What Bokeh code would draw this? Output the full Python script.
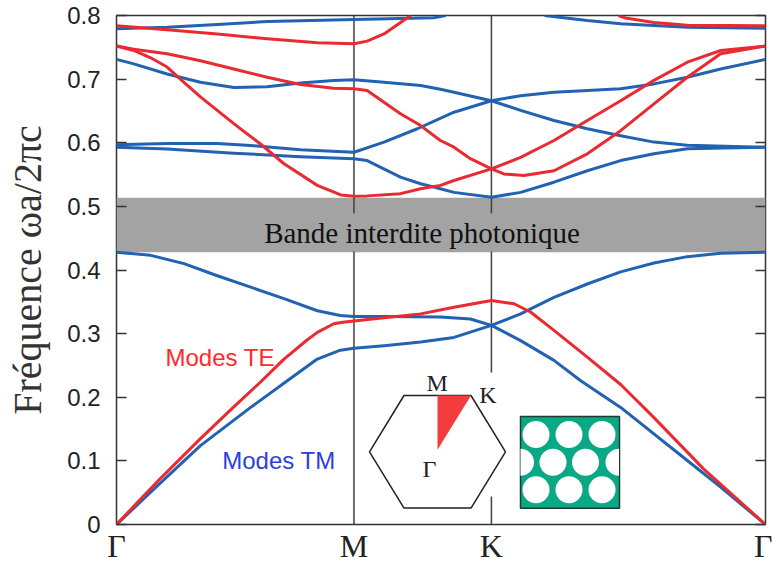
from math import pi
from bokeh.plotting import figure
from bokeh.models import (FixedTicker, NumeralTickFormatter, LinearAxis, Label,
                          BoxAnnotation, CustomJSTickFormatter, Range1d)
from bokeh.embed import file_html
from bokeh.resources import INLINE

# ---------------- data ----------------
sym_k = [0.0, 0.577, 0.911, 1.577]
sym_labels = ["Γ", "M", "K", "Γ"]
y_ticks = [0, 0.1, 0.2, 0.3, 0.4, 0.5, 0.6, 0.7, 0.8]
gap_bottom, gap_top = 0.428, 0.5135

# TE bands (red)
te1_k = [0, 0.1, 0.204, 0.285, 0.35, 0.407, 0.463, 0.488, 0.528, 0.55, 0.577, 0.65, 0.739, 0.82, 0.911,
         0.966, 1.006, 1.063, 1.144, 1.225, 1.306, 1.427, 1.577]
te1_w = [0, 0.068, 0.135, 0.185, 0.224, 0.26, 0.29, 0.302, 0.3155, 0.318, 0.320, 0.325, 0.331, 0.3415, 0.352,
         0.347, 0.334, 0.305, 0.263, 0.22, 0.168, 0.087, 0]
te2_k = [0, 0.042, 0.083, 0.123, 0.164, 0.204, 0.285, 0.35, 0.407, 0.488, 0.545, 0.577, 0.609, 0.69, 0.739,
         0.787, 0.82, 0.911, 0.941, 0.99, 1.063, 1.144, 1.225, 1.306, 1.387, 1.468, 1.577]
te2_w = [0.752, 0.745, 0.7335, 0.719, 0.695, 0.672, 0.630, 0.598, 0.567, 0.533, 0.518, 0.516, 0.5165, 0.52,
         0.5276, 0.533, 0.5407, 0.559, 0.551, 0.5485, 0.556, 0.5826, 0.619, 0.661, 0.703, 0.74, 0.752]
te3_k = [0, 0.042, 0.123, 0.204, 0.285, 0.366, 0.447, 0.528, 0.577, 0.609, 0.69, 0.739, 0.787,
         0.82, 0.86, 0.911, 0.982, 1.063, 1.144, 1.225, 1.306, 1.387, 1.468, 1.577]
te3_w = [0.752, 0.747, 0.740, 0.729, 0.716, 0.703, 0.6916, 0.6857, 0.685, 0.682, 0.6455, 0.627, 0.6035,
         0.593, 0.575, 0.559, 0.577, 0.6035, 0.635, 0.666, 0.698, 0.7266, 0.745, 0.752]
te4a_k = [0, 0.123, 0.245, 0.366, 0.488, 0.577, 0.609, 0.65, 0.706, 0.715]
te4a_w = [0.784, 0.7775, 0.771, 0.7634, 0.757, 0.7555, 0.7597, 0.771, 0.796, 0.800]
te4b_k = [1.22, 1.237, 1.306, 1.387, 1.577]
te4b_w = [0.800, 0.796, 0.789, 0.7845, 0.784]

# TM bands (blue)
tm1_k = [0, 0.103, 0.204, 0.326, 0.415, 0.488, 0.544, 0.577, 0.65, 0.739, 0.82, 0.911,
         0.982, 1.063, 1.128, 1.225, 1.387, 1.468, 1.577]
tm1_w = [0, 0.063, 0.124, 0.184, 0.226, 0.260, 0.274, 0.277, 0.281, 0.287, 0.294, 0.313,
         0.289, 0.258, 0.226, 0.184, 0.1006, 0.0587, 0]
tm2_k = [0, 0.083, 0.164, 0.245, 0.326, 0.407, 0.488, 0.544, 0.577, 0.65, 0.787, 0.86, 0.911,
         0.982, 1.063, 1.144, 1.225, 1.306, 1.387, 1.468, 1.577]
tm2_w = [0.428, 0.423, 0.41, 0.391, 0.373, 0.355, 0.336, 0.3285, 0.327, 0.327, 0.326, 0.323, 0.313,
         0.331, 0.357, 0.378, 0.397, 0.411, 0.421, 0.4265, 0.428]
tm3_k = [0, 0.123, 0.285, 0.447, 0.577, 0.609, 0.69, 0.739, 0.787, 0.82, 0.911,
         0.982, 1.063, 1.144, 1.225, 1.306, 1.387, 1.577]
tm3_w = [0.593, 0.590, 0.5836, 0.578, 0.5747, 0.572, 0.546, 0.5355, 0.5276, 0.522, 0.5145,
         0.522, 0.538, 0.556, 0.572, 0.5826, 0.5905, 0.593]
tm4_k = [0, 0.123, 0.245, 0.326, 0.447, 0.577, 0.65, 0.731, 0.82, 0.911,
         0.982, 1.063, 1.144, 1.225, 1.306, 1.387, 1.577]
tm4_w = [0.597, 0.599, 0.599, 0.5957, 0.589, 0.585, 0.601, 0.622, 0.648, 0.666,
         0.651, 0.635, 0.622, 0.611, 0.601, 0.596, 0.593]
tm5_k = [0, 0.042, 0.123, 0.204, 0.285, 0.366, 0.447, 0.528, 0.577, 0.65, 0.739, 0.787, 0.82, 0.911,
         0.982, 1.063, 1.144, 1.225, 1.306, 1.387, 1.468, 1.577]
tm5_w = [0.731, 0.724, 0.708, 0.695, 0.687, 0.688, 0.694, 0.698, 0.699, 0.695, 0.69, 0.684, 0.6795, 0.666,
         0.674, 0.6795, 0.682, 0.685, 0.6925, 0.703, 0.716, 0.731]
tm6a_k = [0, 0.123, 0.245, 0.366, 0.577, 0.771, 0.80]
tm6a_w = [0.779, 0.7816, 0.786, 0.7906, 0.7937, 0.7964, 0.800]
tm6b_k = [1.04, 1.144, 1.225, 1.387, 1.577]
tm6b_w = [0.800, 0.792, 0.787, 0.7816, 0.780]

te_bands = [(te1_k, te1_w), (te2_k, te2_w), (te3_k, te3_w), (te4a_k, te4a_w), (te4b_k, te4b_w)]
tm_bands = [(tm1_k, tm1_w), (tm2_k, tm2_w), (tm3_k, tm3_w), (tm4_k, tm4_w), (tm5_k, tm5_w),
            (tm6a_k, tm6a_w), (tm6b_k, tm6b_w)]

# ---------------- styles / layout ----------------
RED = "#ea2a31"
BLUE = "#2262b2"
W, H = 772, 566
L, R, T, B = 116, 7, 15, 42
X0, X1 = sym_k[0], sym_k[-1]
Y0, Y1 = y_ticks[0], y_ticks[-1]
sx = (W - L - R) / (X1 - X0)
sy = (H - T - B) / (Y1 - Y0)


def dx(px):  # screen px -> data x (layout helper for the inset drawing)
    return X0 + (px - L) / sx


def dy(py):  # screen px -> data y
    return Y0 + (H - B - py) / sy


p = figure(width=W, height=H, x_range=Range1d(X0, X1), y_range=Range1d(Y0, Y1),
           output_backend="svg", toolbar_location=None,
           min_border_left=L, min_border_right=R, min_border_top=T, min_border_bottom=B)
p.xgrid.visible = False
p.ygrid.visible = False
p.outline_line_color = "#333333"
p.outline_line_width = 1.5
p.background_fill_color = "white"
p.border_fill_color = "white"

xa = p.xaxis[0]
xa.ticker = FixedTicker(ticks=sym_k)
xa.formatter = CustomJSTickFormatter(args=dict(ks=sym_k, labs=sym_labels), code="""
let best = 0, d = 1e9;
for (let i = 0; i < ks.length; i++) { const e = Math.abs(ks[i] - tick); if (e < d) { d = e; best = i; } }
return labs[best];
""")
xa.major_tick_in = 0
xa.major_tick_out = 0
xa.minor_tick_line_color = None
xa.axis_line_color = None
xa.major_tick_line_color = None
xa.major_label_text_font = "Liberation Serif"
xa.major_label_text_font_size = "32px"
xa.major_label_text_color = "#222222"
xa.major_label_standoff = 3

ya = p.yaxis[0]
ya.ticker = FixedTicker(ticks=y_ticks)
ya.formatter = NumeralTickFormatter(format="0.[0]")
ya.major_tick_in = 10
ya.major_tick_out = 0
ya.minor_tick_line_color = None
ya.axis_line_color = None
ya.major_tick_line_color = "#333333"
ya.major_tick_line_width = 1.5
ya.major_label_text_font = "Liberation Sans"
ya.major_label_text_font_size = "24px"
ya.major_label_text_color = "#222222"
ya.major_label_standoff = 16
ya.axis_label = "Fréquence ωa/2πc"
ya.axis_label_text_font = "Liberation Serif"
ya.axis_label_text_font_size = "40px"
ya.axis_label_text_font_style = "normal"
ya.axis_label_text_color = "#333333"
ya.axis_label_standoff = 14

ra = LinearAxis(ticker=FixedTicker(ticks=y_ticks),
                formatter=CustomJSTickFormatter(code="return ''"),
                major_tick_in=10, major_tick_out=0, minor_tick_line_color=None,
                axis_line_color=None, major_tick_line_color="#333333",
                major_tick_line_width=1.5, major_label_standoff=0)
p.add_layout(ra, "right")

# photonic band gap
p.add_layout(BoxAnnotation(bottom=gap_bottom, top=gap_top, fill_color="#a3a3a3",
                           fill_alpha=1, line_color=None, level="underlay"))

# symmetry-point vertical lines
p.segment(x0=sym_k[1:3], y0=[Y0, Y0], x1=sym_k[1:3], y1=[Y1, Y1],
          line_color="#404040", line_width=1.5)

for k, w in tm_bands:
    p.line(k, w, line_color=BLUE, line_width=3, line_join="round")
for k, w in te_bands:
    p.line(k, w, line_color=RED, line_width=3, line_join="round")

# ---------------- inset: Brillouin zone + crystal ----------------
p.quad(left=dx(362), right=dx(512), top=dy(372), bottom=dy(496),
       fill_color="white", line_color=None)
cx, cy, hw, hh, tw = 437, 451.3, 68, 56.3, 33.5
hx = [cx - tw, cx + tw, cx + hw, cx + tw, cx - tw, cx - hw]
hy = [cy - hh, cy - hh, cy, cy + hh, cy + hh, cy]
p.patch([dx(v) for v in hx], [dy(v) for v in hy], fill_color=None,
        line_color="#222222", line_width=1.5)
p.patch([dx(cx), dx(cx), dx(cx + tw)], [dy(cy - 2), dy(cy - hh), dy(cy - hh)],
        fill_color="#f53c3c", line_color=None)
for txt, px, py in [("M", 436.7, 382), ("K", 487.5, 394), ("Γ", 429.0, 468)]:
    p.add_layout(Label(x=dx(px), y=dy(py), text=txt, text_align="center",
                       text_baseline="alphabetic", text_font="Liberation Serif",
                       text_font_size="24px", text_color="#222222"))

p.quad(left=dx(520), right=dx(619), top=dy(416), bottom=dy(507.7),
       fill_color="#0aa985", line_color="#1d3b2f", line_width=1.5)
rows_y = [434, 461.7, 489.3]
odd_x = [535.5, 568.5, 601.5]
even_x = [552.5, 585]
cxs, cys = [], []
for ry, xs_ in zip(rows_y, [odd_x, even_x, odd_x]):
    for xx in xs_:
        cxs.append(dx(xx))
        cys.append(dy(ry))
p.scatter(cxs, cys, size=27, fill_color="white", line_color=None)
p.wedge(x=[dx(520)], y=[dy(461.7)], radius=13.5, radius_units="screen",
        start_angle=-pi / 2, end_angle=pi / 2, fill_color="white", line_color=None)
p.wedge(x=[dx(618.5)], y=[dy(461.7)], radius=13.5, radius_units="screen",
        start_angle=pi / 2, end_angle=3 * pi / 2, fill_color="white", line_color=None)

# ---------------- texts ----------------
p.add_layout(Label(x=dx(421.5), y=dy(232), text="Bande interdite photonique",
                   text_align="center", text_baseline="alphabetic",
                   text_font="Liberation Serif", text_font_size="29px", text_color="#111111",
                   background_fill_color="#a3a3a3", background_fill_alpha=1, padding=3))
p.add_layout(Label(x=dx(165), y=dy(357), text="Modes TE", text_align="left",
                   text_baseline="alphabetic", text_font="Liberation Sans",
                   text_font_size="24px", text_color="#ff2a2a"))
p.add_layout(Label(x=dx(221.7), y=dy(460), text="Modes TM", text_align="left",
                   text_baseline="alphabetic", text_font="Liberation Sans",
                   text_font_size="24px", text_color="#2a40e0"))

open("out.html", "w").write(file_html(p, INLINE))
